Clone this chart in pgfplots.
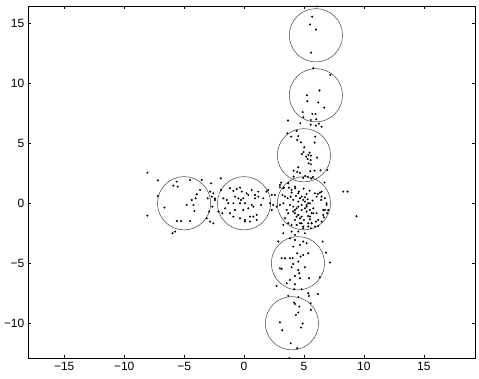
\documentclass[border=0pt]{standalone}
\usepackage{pgfplots}
\pgfplotsset{compat=1.18}
\usepackage{pgfplotstable}
\usepackage{fontspec}
\setmainfont{Liberation Sans}
\pgfplotstableread{
x y
6.1 16.4
5.69 15.55
5.5 14.9
6.0 14.47
5.6 12.55
5.78 11.25
7.2 10.7
6.3 9.4
5.25 9.0
5.28 8.5
6.2 8.4
6.7 7.97
4.9 7.6
5.7 7.44
5.97 7.44
4.95 7.17
6.03 7.0
3.67 6.9
4.7 6.67
5.56 6.55
6.0 6.47
6.25 6.63
6.47 6.38
5.58 6.94
4.39 6.03
3.61 5.83
3.94 5.55
4.53 5.6
5.94 5.55
4.44 5.27
4.75 5.08
5.89 5.05
5.03 4.67
4.97 4.27
5.47 4.22
4.83 4.1
5.36 4.03
5.58 3.97
5.19 3.88
6.1 3.8
5.31 3.67
5.56 3.6
5.39 3.33
5.58 3.25
4.53 3.0
4.14 2.72
4.44 2.61
4.67 2.53
5.53 2.67
5.89 2.72
6.39 2.75
6.95 2.78
5.11 2.28
5.33 2.19
5.61 2.05
5.75 2.19
4.14 2.22
4.94 2.11
3.1 1.72
6.72 1.72
3.0 1.33
3.33 1.3
3.75 1.3
4.28 1.25
4.97 1.22
3.97 0.89
4.58 0.97
5.22 0.78
5.47 1.05
6.17 0.78
6.47 0.97
8.28 0.97
8.64 0.97
9.39 -1.08
3.22 0.69
3.64 0.42
3.89 0.55
4.11 0.28
4.33 0.61
4.53 0.14
4.67 0.42
4.94 0.28
5.08 0.50
5.31 0.33
5.50 0.0
5.72 0.22
6.06 0.55
6.33 0.89
6.44 0.28
6.75 0.42
6.89 -0.14
7.03 -0.56
6.94 -0.83
6.67 -1.17
6.47 -1.53
6.19 -1.89
5.92 -1.94
5.36 -1.67
5.50 -1.33
5.0 -1.39
4.67 -1.25
4.39 -1.11
4.25 -0.83
4.53 -0.97
4.81 -0.56
5.08 -0.42
5.22 -0.69
5.5 -0.56
5.78 -0.83
4.11 -0.28
3.83 -0.14
3.56 -0.56
3.42 -1.25
3.97 -1.81
4.39 -1.81
4.67 -1.67
4.94 -1.94
5.58 -2.08
6.0 -1.53
6.61 -0.56
3.0 -0.14
4.53 -0.28
4.25 -0.56
4.81 -0.14
5.22 -0.14
5.36 -1.06
5.64 -1.67
3.0 1.53
3.28 1.25
3.69 1.67
3.97 1.11
4.25 1.39
4.53 0.83
4.81 0.56
5.08 0.14
5.36 0.0
5.22 -0.28
4.39 -0.42
4.11 -0.69
4.53 -0.97
4.81 -1.11
4.25 -1.39
3.69 -0.83
3.28 0.0
3.42 0.56
5.92 0.83
6.47 0.56
6.89 0.0
6.75 -0.56
6.61 -0.97
6.19 -1.39
5.64 -1.67
5.36 -1.94
4.94 -2.08
4.53 -2.36
3.97 -2.36
4.25 -2.64
5.08 -2.5
3.28 -1.81
2.72 -0.28
2.58 0.69
2.03 1.11
2.17 0.0
2.31 -0.56
6.06 -0.83
5.64 -0.83
5.78 -0.42
5.5 -1.11
4.81 -1.67
4.39 -1.81
3.69 -1.67
3.28 -2.5
2.86 -3.19
3.83 -2.92
4.25 -3.06
4.94 -3.19
4.67 -3.47
4.11 -3.61
5.22 -3.33
6.56 -3.19
6.83 -4.11
7.17 -4.94
3.14 -4.58
3.42 -4.58
3.83 -4.58
4.06 -4.58
4.44 -4.17
4.72 -4.44
4.94 -4.31
5.36 -4.17
4.53 -4.86
5.08 -5.33
3.97 -5.33
3.14 -5.47
4.53 -5.56
4.61 -5.83
4.25 -6.06
3.83 -6.39
3.56 -6.67
4.25 -6.75
4.67 -6.25
5.42 -6.25
6.33 -6.17
2.72 -6.89
4.19 -7.17
4.81 -7.17
5.36 -7.5
5.42 -7.72
6.17 -7.56
3.69 -7.72
3.0 -5.42
4.11 -5.06
4.53 -7.83
4.17 -8.28
4.25 -8.39
4.61 -8.61
5.56 -8.33
5.58 -8.89
4.53 -9.11
4.33 -9.31
3.0 -9.92
3.19 -10.58
4.89 -10.03
4.75 -10.36
3.89 -11.67
4.44 -12.08
3.78 -12.9
-8.06 2.55
-7.19 1.91
-5.61 1.80
-5.89 1.47
-5.53 1.39
-4.5 1.94
-3.67 1.11
-3.94 0.75
-4.03 0.41
-4.36 0.27
-4.78 -0.14
-4.22 -0.14
-4.14 -0.64
-6.64 -0.36
-8.06 -1.03
-5.61 -1.48
-5.25 -1.48
-4.5 -1.48
-5.75 -2.36
-5.97 -2.5
-7.19 0.61
-3.53 1.94
-3.03 0.41
-2.83 0.97
-2.69 0.55
-2.56 0.83
-2.42 0.41
-2.75 1.66
-1.94 2.08
-2.64 -0.28
-2.92 -0.7
-3.11 -1.25
-2.83 -1.53
-2.56 -1.67
-2.42 0.27
-2.14 -0.7
-1.81 -0.83
-1.92 1.11
-1.72 0.41
-1.44 0.27
-1.17 1.25
-0.89 1.03
-0.61 1.19
-0.33 1.3
-0.19 0.97
-0.75 0.55
-0.47 0.41
-0.25 0.27
-0.06 0.41
-0.33 0.0
0.08 0.0
0.36 0.69
0.64 1.11
0.92 0.41
1.19 0.97
1.42 -0.14
0.78 -0.28
0.36 -0.42
-0.06 -0.56
-0.75 -0.56
-1.17 -0.83
-0.89 -1.11
-0.33 -1.25
0.5 -1.11
1.06 -1.39
0.5 -1.53
0.08 -1.53
-1.58 -0.42
-1.31 0.0
0.78 -1.11
1.61 0.41
-0.89 0.0
0.22 0.83
0.92 0.69
1.19 0.55
0.64 -0.14
1.06 -0.97
0.08 -1.39
2.31 0.69
2.44 -0.14
1.89 0.97
}\pts
\begin{document}
\begin{tikzpicture}
\begin{axis}[
  scale only axis,
  width=447bp, height=352.3bp,
  xmin=-18, xmax=19.3, ymin=-12.92, ymax=16.44,
  xtick={-15,-10,-5,0,5,10,15},
  xticklabels={−15,−10,−5,0,5,10,15},
  ytick={-10,-5,0,5,10,15},
  yticklabels={−10,−5,0,5,10,15},
  tick align=inside,
  major tick length=3bp,
  tick style={black, line width=0.4pt},
  axis line style={black, line width=0.6pt},
  ticklabel style={font=\fontsize{12}{14}\selectfont},
  xticklabel style={yshift=-0.5bp},
  yticklabel style={xshift=-0.5bp},
]
\addplot[only marks, mark=*, mark size=0.8pt, black] table[x=x,y=y] {\pts};
\draw[black!75, line width=0.5pt] (axis cs:6,14) circle [radius=2.22];
\draw[black!75, line width=0.5pt] (axis cs:6,9) circle [radius=2.22];
\draw[black!75, line width=0.5pt] (axis cs:5,4) circle [radius=2.22];
\draw[black!75, line width=0.5pt] (axis cs:5,0) circle [radius=2.22];
\draw[black!75, line width=0.5pt] (axis cs:4.5,-5) circle [radius=2.22];
\draw[black!75, line width=0.5pt] (axis cs:4,-10) circle [radius=2.22];
\draw[black!75, line width=0.5pt] (axis cs:0,0) circle [radius=2.22];
\draw[black!75, line width=0.5pt] (axis cs:-5,0) circle [radius=2.22];
\end{axis}
\pgfresetboundingbox
\path ([shift={(-28.3bp,-20.7bp)}]current axis.south west) rectangle ([shift={(3.7bp,6bp)}]current axis.north east);
\end{tikzpicture}
\end{document}
